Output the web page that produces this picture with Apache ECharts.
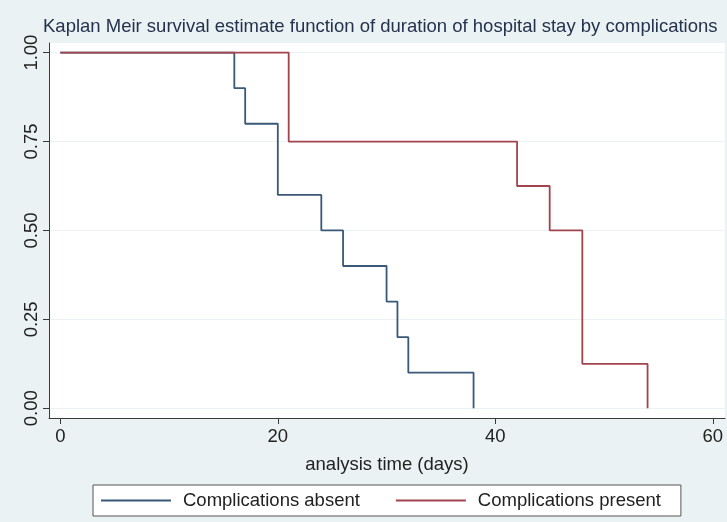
<!DOCTYPE html>
<html>
<head>
<meta charset="utf-8">
<script src="https://cdn.jsdelivr.net/npm/echarts@6/dist/echarts.min.js"></script>
<style>
  html, body { margin: 0; padding: 0; background: #eaf2f3; }
  #chart { width: 727px; height: 522px; }
</style>
</head>
<body>
<div id="chart"></div>
<script>
// Kaplan-Meier survival estimates: [time in days, survival probability]
const absentSteps = [[0, 1], [16, 0.9], [17, 0.8], [20, 0.6], [24, 0.5], [26, 0.4], [30, 0.3], [31, 0.2], [32, 0.1], [38, 0]];
const presentSteps = [[0, 1], [21, 0.75], [42, 0.625], [45, 0.5], [48, 0.125], [54, 0]];
const seriesNames = ['Complications absent', 'Complications present'];
const xTicks = [0, 20, 40, 60];
const yTicks = [0, 0.25, 0.5, 0.75, 1];

const FONT = 'Liberation Sans, Arial, sans-serif';
const FONT_SIZE = 18.5;
const AXIS_COLOR = '#3a3a3a';

const chart = echarts.init(document.getElementById('chart'), null, { renderer: 'canvas' });

chart.setOption({
  backgroundColor: '#eaf2f3',
  animation: false,
  title: {
    text: 'Kaplan Meir survival estimate function of duration of hospital stay by complications',
    left: 43,
    top: 17,
    padding: 0,
    textStyle: { fontFamily: FONT, fontSize: FONT_SIZE, fontWeight: 'normal', color: '#24324e' }
  },
  grid: {
    left: 49, right: 2, top: 43, bottom: 104,
    show: true, backgroundColor: '#ffffff', borderWidth: 0
  },
  xAxis: {
    type: 'value',
    min: -1.04,
    max: 61.12,
    name: 'analysis time (days)',
    nameLocation: 'middle',
    nameGap: 37,
    nameTextStyle: { fontFamily: FONT, fontSize: FONT_SIZE, color: '#222' },
    axisLine: { show: true, onZero: false, lineStyle: { color: AXIS_COLOR, width: 1 } },
    axisTick: { show: true, length: 6, customValues: xTicks, lineStyle: { color: AXIS_COLOR } },
    axisLabel: {
      customValues: xTicks, margin: 9,
      fontFamily: FONT, fontSize: FONT_SIZE, color: '#222'
    },
    splitLine: { show: false }
  },
  yAxis: {
    type: 'value',
    min: -0.0273,
    max: 1.027,
    axisLine: { show: true, onZero: false, lineStyle: { color: AXIS_COLOR, width: 1 } },
    axisTick: { show: true, length: 6, customValues: yTicks, lineStyle: { color: AXIS_COLOR } },
    axisLabel: {
      customValues: yTicks, margin: 8, rotate: 90,
      fontFamily: FONT, fontSize: FONT_SIZE, color: '#222',
      formatter: v => v.toFixed(2)
    },
    splitLine: { show: true, lineStyle: { color: '#eaf2f3', width: 1 } }
  },
  legend: {
    data: seriesNames,
    bottom: 6,
    left: 93,
    orient: 'horizontal',
    backgroundColor: '#ffffff',
    borderColor: '#555555',
    borderWidth: 1,
    padding: [6, 20, 6, 8],
    itemGap: 36,
    itemWidth: 70,
    itemHeight: 2,
    icon: 'rect',
    textStyle: { fontFamily: FONT, fontSize: FONT_SIZE, color: '#222', padding: [0, 0, 0, 7] }
  },
  series: [
    {
      name: seriesNames[0],
      type: 'line',
      step: 'end',
      data: absentSteps,
      showSymbol: false,
      color: '#3a5878',
      lineStyle: { width: 1.8, color: '#3a5878' }
    },
    {
      name: seriesNames[1],
      type: 'line',
      step: 'end',
      data: presentSteps,
      showSymbol: false,
      color: '#a2444e',
      lineStyle: { width: 1.8, color: '#a2444e' }
    }
  ]
});
</script>
</body>
</html>
